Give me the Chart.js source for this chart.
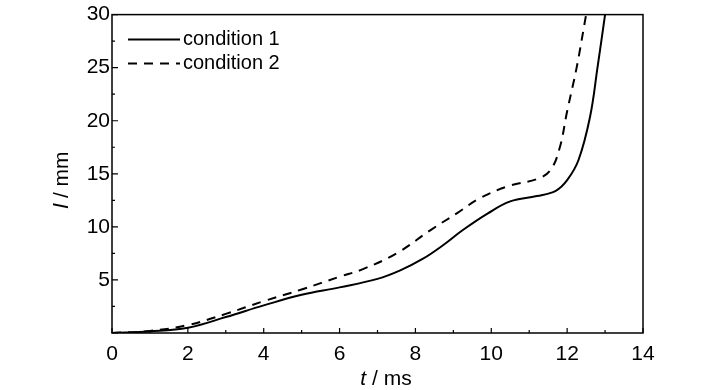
<!DOCTYPE html>
<html>
<head>
<meta charset="utf-8">
<script src="https://cdn.jsdelivr.net/npm/chart.js@4/dist/chart.umd.min.js"></script>
<style>
  html, body { margin: 0; padding: 0; background: #fff; }
  #wrap { width: 728px; height: 390px; }
</style>
</head>
<body>
<div id="wrap"><canvas id="chart" width="728" height="390"></canvas></div>
<script>
// values
const t1 = [0, 1, 2, 3, 4, 5, 6, 7, 7.6, 8.2, 8.7, 9.25, 9.9, 10.5, 11.2, 11.7, 12, 12.3, 12.6, 12.8, 13.0];
const l1 = [0, 0.15, 0.5, 1.5, 2.6, 3.6, 4.3, 5.1, 5.9, 7.0, 8.2, 9.7, 11.25, 12.4, 12.9, 13.4, 14.4, 16.3, 20.3, 25, 30];
const t2 = [0, 1, 2, 3, 4, 5, 6, 6.6, 7.5, 8.4, 9.1, 9.7, 10.5, 11.2, 11.55, 11.8, 12.0, 12.25, 12.5];
const l2 = [0, 0.2, 0.75, 1.8, 3.0, 4.1, 5.3, 6.0, 7.5, 9.7, 11.3, 12.7, 13.9, 14.5, 15.3, 17.4, 20.9, 25, 30];
const seriesNames = ["condition 1", "condition 2"];
const xTicks = [0, 2, 4, 6, 8, 10, 12, 14];
const yTicks = [5, 10, 15, 20, 25, 30];

const FONT = "Liberation Sans, Arial, sans-serif";

function pts(xs, ys) {
  return xs.map((x, i) => ({ x: x, y: ys[i] }));
}

// frame, inward ticks, legend and axis titles
const decor = {
  id: "decor",
  afterDraw(chart) {
    const ctx = chart.ctx;
    const a = chart.chartArea;
    const xs = chart.scales.x, ys = chart.scales.y;
    ctx.save();
    ctx.strokeStyle = "#000";
    ctx.lineWidth = 1.5;
    ctx.strokeRect(a.left, a.top, a.right - a.left, a.bottom - a.top);

    ctx.lineWidth = 1.2;
    ctx.beginPath();
    for (let v = 0; v <= 14; v += 1) {
      const px = xs.getPixelForValue(v);
      const len = v % 2 === 0 ? 5 : 3;
      ctx.moveTo(px, a.bottom);
      ctx.lineTo(px, a.bottom - len);
    }
    for (let v = 0; v <= 30; v += 2.5) {
      const py = ys.getPixelForValue(v);
      const len = v % 5 === 0 ? 6 : 3;
      ctx.moveTo(a.left, py);
      ctx.lineTo(a.left + len, py);
    }
    ctx.stroke();

    // legend
    chart.data.datasets.forEach((ds, i) => {
      const y = a.top + 25 + i * 24;
      ctx.beginPath();
      ctx.lineWidth = 2;
      ctx.setLineDash(ds.borderDash || []);
      ctx.moveTo(a.left + 16, y);
      ctx.lineTo(a.left + 68, y);
      ctx.stroke();
      ctx.setLineDash([]);
      ctx.fillStyle = "#000";
      ctx.font = "20px " + FONT;
      ctx.textBaseline = "middle";
      ctx.textAlign = "left";
      ctx.fillText(ds.label, a.left + 71, y);
    });

    // axis titles with italic symbols
    function mixed(parts, cx, cy) {
      let w = 0;
      parts.forEach(p => { ctx.font = p[1] + " 21px " + FONT; w += ctx.measureText(p[0]).width; });
      let x = cx - w / 2;
      ctx.textAlign = "left";
      ctx.textBaseline = "middle";
      parts.forEach(p => {
        ctx.font = p[1] + " 21px " + FONT;
        ctx.fillText(p[0], x, cy);
        x += ctx.measureText(p[0]).width;
      });
    }
    mixed([["t", "italic"], [" / ms", "normal"]], 386, 379);
    ctx.translate(62, 180);
    ctx.rotate(-Math.PI / 2);
    mixed([["l", "italic"], [" / mm", "normal"]], 0, 0);
    ctx.restore();
  }
};

new Chart(document.getElementById("chart"), {
  type: "line",
  data: {
    datasets: [
      {
        label: seriesNames[0],
        data: pts(t1, l1),
        borderColor: "#000",
        borderWidth: 2,
        pointRadius: 0,
        tension: 0.4,
        fill: false
      },
      {
        label: seriesNames[1],
        data: pts(t2, l2),
        borderColor: "#000",
        borderWidth: 2,
        borderDash: [9, 7],
        pointRadius: 0,
        tension: 0.4,
        fill: false
      }
    ]
  },
  options: {
    responsive: false,
    animation: false,
    layout: { padding: { left: 0, right: 85, top: 13, bottom: 0 } },
    plugins: { legend: { display: false }, tooltip: { enabled: false } },
    scales: {
      x: {
        type: "linear",
        min: 0, max: 14,
        afterBuildTicks: s => { s.ticks = xTicks.map(v => ({ value: v })); },
        afterFit: s => { s.height = 57; },
        grid: { display: false, drawTicks: false },
        border: { display: false },
        ticks: { color: "#000", padding: 9, font: { family: FONT, size: 21 } }
      },
      y: {
        min: 0, max: 30,
        afterBuildTicks: s => { s.ticks = yTicks.map(v => ({ value: v })); },
        afterFit: s => { s.width = 112; },
        grid: { display: false, drawTicks: false },
        border: { display: false },
        ticks: { color: "#000", padding: 2, font: { family: FONT, size: 21 } }
      }
    }
  },
  plugins: [decor]
});
</script>
</body>
</html>
